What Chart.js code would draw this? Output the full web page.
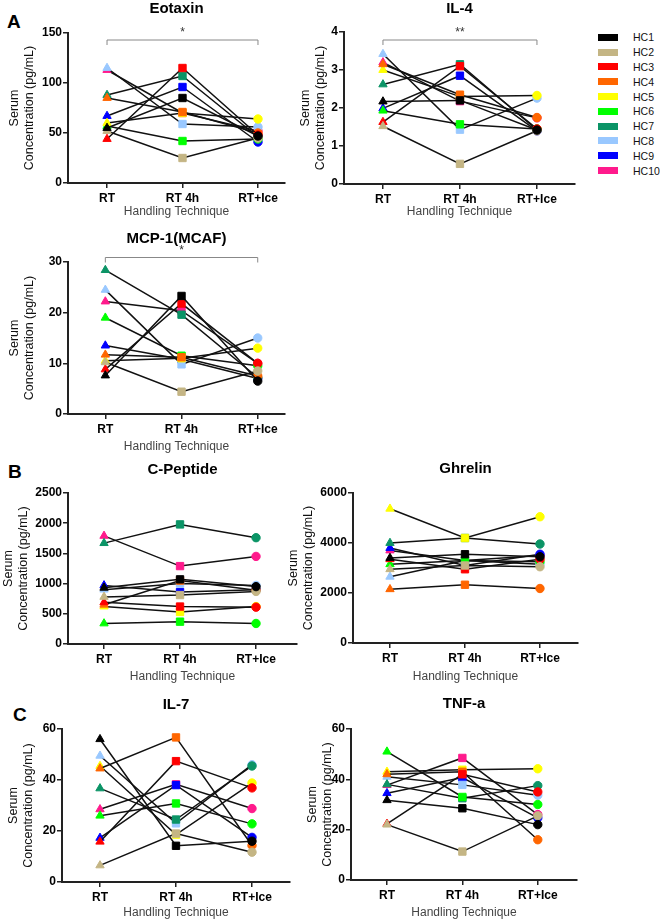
<!DOCTYPE html>
<html>
<head>
<meta charset="utf-8">
<script src="https://cdn.jsdelivr.net/npm/chart.js@4.4.1/dist/chart.umd.min.js"></script>
<style>
  body { margin: 0; background: #fff; }
  #fig { position: relative; width: 660px; height: 922px; overflow: hidden; font-family: "Liberation Sans", Arial, sans-serif; }
  #fig canvas { position: absolute; }
  .letter { position: absolute; font-weight: bold; font-size: 19px; line-height: 22px; }
  #legend { position: absolute; left: 598px; top: 30px; font-size: 10.5px; color: #111; }
  #legend .row { height: 14.8px; display: flex; align-items: center; }
  #legend .sw { width: 20px; height: 7px; margin-right: 15px; display: inline-block; }
</style>
</head>
<body>
<div id="fig">
  <div class="letter" style="left:7px;top:11px">A</div>
  <div class="letter" style="left:8px;top:461px">B</div>
  <div class="letter" style="left:13px;top:704px">C</div>
  <div id="legend"></div>
</div>
<script>
// categories / subjects
const categories = ['RT', 'RT 4h', 'RT+Ice'];
const hcLabels = ['HC1', 'HC2', 'HC3', 'HC4', 'HC5', 'HC6', 'HC7', 'HC8', 'HC9', 'HC10'];
const hcColors = ['#000000', '#c4b584', '#ff0000', '#ff6600', '#ffff00', '#00ff00', '#0b9466', '#99c8ff', '#0000ff', '#ff1a8c'];

// values per subject: [RT, RT 4h, RT+Ice]
const eotaxin = [[55, 85, 47], [52, 25, 45], [44, 115, 48], [85, 71, 50], [60, 70, 64],
                 [57, 42, 44], [88, 107, 46], [115, 59, 56], [67, 96, 41], [113, 70, 52]];
const il4 = [[2.17, 2.2, 1.42], [1.52, 0.53, 1.4], [1.63, 3.1, 1.45], [3.15, 2.35, 1.75], [3.0, 2.3, 2.33],
             [1.93, 1.57, 1.45], [2.62, 3.15, 1.42], [3.42, 1.43, 2.26], [1.99, 2.85, 1.4], [3.2, 2.18, 1.74]];
const mcp1 = [[7.6, 23.3, 6.5], [10.2, 4.4, 8.5], [8.8, 21.8, 10], [11.7, 11.2, 7.5], [10.5, 11, 13],
              [19, 11.5, 9.5], [28.4, 19.6, 7.2], [24.5, 9.8, 15], [13.5, 10.8, 7], [22.2, 20.4, 10]];
const cPeptide = [[930, 1070, 950], [780, 810, 870], [690, 620, 610], [650, 1050, 890], [620, 530, 620],
                  [340, 370, 340], [1670, 1980, 1760], [900, 1000, 970], [970, 860, 900], [1790, 1290, 1450]];
const ghrelin = [[3400, 3550, 3450], [2950, 3100, 3050], [3350, 2950, 3350], [2150, 2330, 2180], [5370, 4200, 5050],
                 [3150, 3300, 3250], [4000, 4200, 3960], [2650, 3300, 3150], [3800, 3100, 3550], [3700, 3300, 3500]];
const il7 = [[56, 14.2, 16], [6.5, 19, 11.7], [15.8, 47.4, 36.9], [44.5, 56.7, 14.3], [45.5, 18.6, 38.8],
             [26, 30.8, 22.8], [36.7, 24.5, 45.5], [49.5, 23, 46], [17.3, 38, 17.5], [28.5, 38.3, 28.8]];
const tnfa = [[31.7, 28.5, 22], [22, 11.3, 25.5], [22.3, 42, 35], [42, 43, 16], [43, 43.8, 44.2],
              [51, 33, 30], [38, 32.5, 37.5], [41, 37.8, 33.7], [34.5, 40.7, 24.7], [37.7, 48.5, 26]];

const FONT = '"Liberation Sans", Arial, sans-serif';
const fig = document.getElementById('fig');

// legend
const legend = document.getElementById('legend');
hcLabels.forEach((lab, k) => {
  const row = document.createElement('div');
  row.className = 'row';
  row.innerHTML = '<span class="sw" style="background:' + hcColors[k] + '"></span>' + lab;
  legend.appendChild(row);
});

// significance bracket above the chart
const sigPlugin = {
  id: 'sig',
  afterDraw(chart, args, opts) {
    if (!opts.text) return;
    const { ctx, chartArea, scales: { x } } = chart;
    const x0 = x.getPixelForValue(0), x2 = x.getPixelForValue(2);
    const y = chartArea.top + opts.offset;
    ctx.save();
    ctx.strokeStyle = '#888';
    ctx.lineWidth = 1;
    ctx.beginPath();
    ctx.moveTo(x0, y + 5); ctx.lineTo(x0, y); ctx.lineTo(x2, y); ctx.lineTo(x2, y + 5);
    ctx.stroke();
    ctx.fillStyle = '#333';
    ctx.font = '12px ' + FONT;
    ctx.textAlign = 'center';
    ctx.textBaseline = 'middle';
    ctx.fillText(opts.text, (x0 + x2) / 2, y - 7);
    ctx.restore();
  }
};

function makePanel(p) {
  const cv = document.createElement('canvas');
  cv.width = p.w; cv.height = p.h;
  cv.style.left = p.left + 'px'; cv.style.top = p.top + 'px';
  fig.appendChild(cv);

  const datasets = p.data.map((row, k) => ({
    label: hcLabels[k],
    data: row.map((v, i) => ({ x: i, y: v })),
    borderColor: '#111',
    borderWidth: 1.5,
    pointStyle: ['triangle', 'rect', 'circle'],
    pointRadius: [4.8, 5.2, 4.2],
    pointBackgroundColor: hcColors[k],
    pointBorderColor: hcColors[k],
    pointBorderWidth: 1,
    tension: 0,
    fill: false
  }));

  new Chart(cv, {
    type: 'line',
    data: { datasets },
    options: {
      responsive: false,
      animation: false,
      devicePixelRatio: 1,
      layout: { padding: { left: 0, right: p.padR, top: 0, bottom: 0 } },
      plugins: {
        legend: { display: false },
        tooltip: { enabled: false },
        title: {
          display: true, text: p.title, fullSize: false, color: '#000',
          font: { family: FONT, size: 15, weight: 'bold' },
          padding: { top: p.tTop, bottom: p.tBot }
        },
        sig: { text: p.sig, offset: p.sigOff }
      },
      scales: {
        x: {
          type: 'linear', min: p.xMin, max: p.xMax,
          afterBuildTicks: s => { s.ticks = [0, 1, 2].map(v => ({ value: v })); },
          afterFit: s => { s.height = p.xH; },
          grid: { drawOnChartArea: false, drawTicks: true, tickLength: 5, color: '#222', lineWidth: 1.5 },
          border: { display: true, color: '#222', width: 2 },
          ticks: { padding: 3, color: '#000', font: { family: FONT, size: 12, weight: 'bold' },
                   callback: v => categories[v] },
          title: { display: true, text: 'Handling Technique', color: '#444',
                   font: { family: FONT, size: 12 }, padding: { top: 0, bottom: p.xTP } }
        },
        y: {
          min: 0, max: p.max,
          afterFit: s => { s.width = p.yW; },
          grid: { drawOnChartArea: false, drawTicks: true, tickLength: 5, color: '#222', lineWidth: 1.5 },
          border: { display: true, color: '#222', width: 2 },
          ticks: { stepSize: p.step, padding: 1, color: '#000', font: { family: FONT, size: 12, weight: 'bold' },
                   callback: v => String(v) },
          title: { display: true, text: ['Serum', 'Concentration (pg/mL)'], color: '#111',
                   font: { family: FONT, size: 12.5 }, padding: { top: p.yTP, bottom: p.yTP } }
        }
      }
    },
    plugins: [sigPlugin]
  });
}

makePanel({ title: 'Eotaxin', data: eotaxin, left: 0, top: 0, w: 300, h: 222, yW: 68, xH: 39, padR: 15,
            tTop: 0, tBot: 15, yTP: 7, xTP: 3, max: 150, step: 50, xMin: -0.517, xMax: 2.358, sig: '*', sigOff: 7 });
makePanel({ title: 'IL-4', data: il4, left: 290, top: 0, w: 295, h: 222, yW: 54, xH: 38, padR: 10,
            tTop: 0, tBot: 14, yTP: 8, xTP: 3, max: 4, step: 1, xMin: -0.506, xMax: 2.494, sig: '**', sigOff: 8 });
makePanel({ title: 'MCP-1(MCAF)', data: mcp1, left: 0, top: 224, w: 300, h: 233, yW: 68, xH: 43, padR: 15,
            tTop: 6, tBot: 14, yTP: 7, xTP: 3, max: 30, step: 10, xMin: -0.49, xMax: 2.358, sig: '*', sigOff: -4.5 });
makePanel({ title: 'C-Peptide', data: cPeptide, left: 0, top: 460, w: 310, h: 226, yW: 68, xH: 42, padR: 13,
            tTop: 1, tBot: 14, yTP: 1, xTP: 2, max: 2500, step: 500, xMin: -0.474, xMax: 2.539 });
makePanel({ title: 'Ghrelin', data: ghrelin, left: 285, top: 460, w: 305, h: 226, yW: 68, xH: 43, padR: 12,
            tTop: 0, tBot: 15, yTP: 1, xTP: 2, max: 6000, step: 2000, xMin: -0.493, xMax: 2.507 });
makePanel({ title: 'IL-7', data: il7, left: 0, top: 692, w: 300, h: 230, yW: 62, xH: 40, padR: 10,
            tTop: 4, tBot: 15, yTP: 6, xTP: 2, max: 60, step: 20, xMin: -0.5, xMax: 2.5 });
makePanel({ title: 'TNF-a', data: tnfa, left: 290, top: 692, w: 300, h: 230, yW: 61, xH: 42, padR: 13,
            tTop: 3, tBot: 16, yTP: 15, xTP: 2, max: 60, step: 20, xMin: -0.477, xMax: 2.52 });
</script>
</body>
</html>
